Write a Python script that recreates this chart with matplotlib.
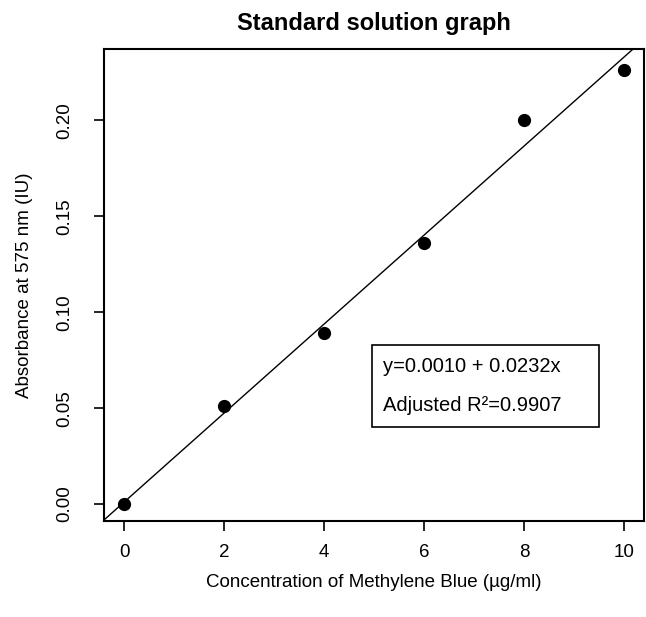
import matplotlib
matplotlib.use("Agg")
import matplotlib.pyplot as plt
from matplotlib.patches import Rectangle

plt.rcParams['font.family'] = ['Liberation Sans', 'DejaVu Sans']

# Data
concentration = [0, 2, 4, 6, 8, 10]
absorbance = [0.000, 0.051, 0.089, 0.136, 0.200, 0.226]
intercept = 0.0010
slope = 0.0232
x_ticks = [0, 2, 4, 6, 8, 10]
y_ticks = [0.00, 0.05, 0.10, 0.15, 0.20]
y_tick_labels = ["0.00", "0.05", "0.10", "0.15", "0.20"]

fig = plt.figure(figsize=(6.46, 6.17), dpi=100)
ax = fig.add_axes([0.161, 0.155, 0.836, 0.765])

ax.plot(concentration, absorbance, 'o', color='black', markersize=8.5)

# fitted line (abline style, spans whole plot)
xlim = (-0.4, 10.4)
ax.plot(xlim, [intercept + slope * xlim[0], intercept + slope * xlim[1]],
        color='black', linewidth=1.0)

ax.set_xlim(xlim)
ax.set_ylim(-0.009, 0.237)

ax.set_xticks(x_ticks)
ax.set_yticks(y_ticks)
ax.set_yticklabels(y_tick_labels, rotation=90, va='center')
ax.tick_params(direction='out', length=7, width=1.2, labelsize=13.5, pad=9)
ax.tick_params(axis='y', pad=15)
for s in ax.spines.values():
    s.set_linewidth(1.5)

ax.set_title("Standard solution graph", fontsize=17, fontweight='bold', pad=14)
ax.set_xlabel("Concentration of Methylene Blue (\u00b5g/ml)", fontsize=13.5, labelpad=10)
ax.set_ylabel("Absorbance at 575 nm (IU)", fontsize=13.5, labelpad=17)

# legend-style box with fit equation
ax.add_patch(Rectangle((4.95, 0.040), 4.55, 0.043, fill=False,
                       edgecolor='black', linewidth=1.2))
ax.text(5.17, 0.0715, "y=0.0010 + 0.0232x", fontsize=14.5, va='center')
ax.text(5.17, 0.0515, "Adjusted R\u00b2=0.9907", fontsize=14.5, va='center')

fig.savefig("out.png", dpi=100)
